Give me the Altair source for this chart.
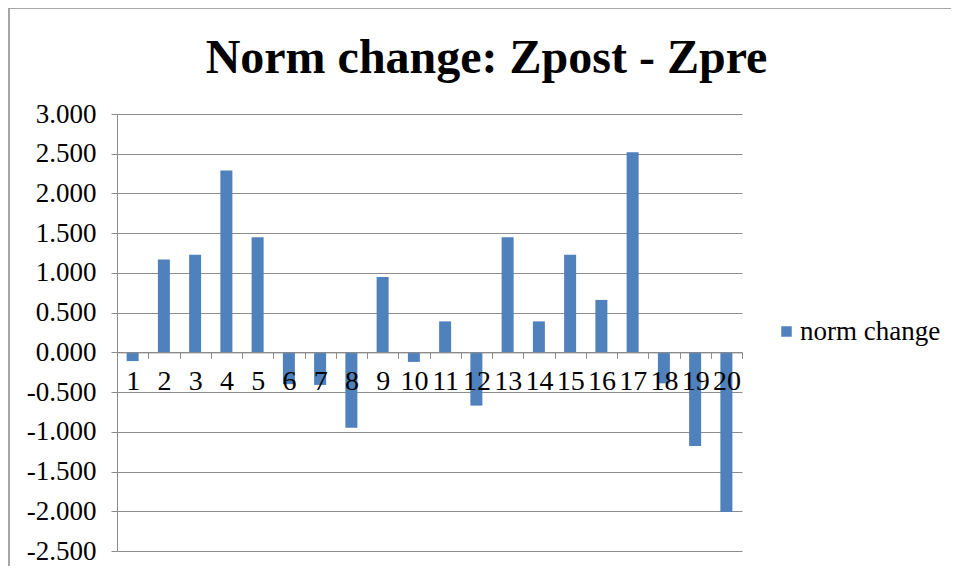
import altair as alt
import pandas as pd

categories = [str(i) for i in range(1, 21)]
values = [-0.11, 1.17, 1.23, 2.29, 1.45, -0.40, -0.41, -0.95, 0.95, -0.12,
          0.39, -0.67, 1.45, 0.39, 1.23, 0.66, 2.52, -0.39, -1.18, -2.01]
series_name = "norm change"
y_ticks = [-2.5, -2.0, -1.5, -1.0, -0.5, 0.0, 0.5, 1.0, 1.5, 2.0, 2.5, 3.0]

df = pd.DataFrame({"cat": categories, "value": values, "series": series_name})

W, H = 625, 437
ymin, ymax = -2.5, 3.0
zero_offset = -H * (0 - ymin) / (ymax - ymin)

FONT = "Liberation Serif"
GRID = "#8c8c8c"

bars = alt.Chart(df).mark_bar(size=12).encode(
    x=alt.X("cat:N", sort=categories, title=None,
            scale=alt.Scale(paddingInner=0, paddingOuter=0),
            axis=alt.Axis(orient="bottom", offset=zero_offset, tickBand="extent",
                          labelAngle=0, labelFont=FONT, labelFontSize=28,
                          labelColor="black", labelPadding=9, tickSize=6,
                          tickColor=GRID, domainColor=GRID, grid=False, zindex=1)),
    y=alt.Y("value:Q", title=None,
            scale=alt.Scale(domain=[ymin, ymax], nice=False, zero=False),
            axis=alt.Axis(values=y_ticks, labelExpr="replace(format(datum.value, '.3f'), '\u2212', '-')",
                          labelFont=FONT, labelFontSize=27, labelColor="black",
                          labelPadding=15, tickSize=6, tickColor=GRID,
                          domainColor=GRID, gridColor=GRID, grid=True)),
    color=alt.Color("series:N", title=None,
                    scale=alt.Scale(range=["#4F81BD"]),
                    legend=alt.Legend(orient="none", legendX=656, legendY=204,
                                      symbolType="square", symbolSize=110,
                                      symbolStrokeWidth=0, labelOffset=0,
                                      labelFont=FONT,
                                      labelFontSize=27, labelColor="black")),
)

frame = alt.Chart(pd.DataFrame({"k": [0]})).mark_rect(
    fill=None, stroke="#a6a6a6", strokeWidth=2
).encode(x=alt.value(-108), x2=alt.value(845), y=alt.value(-106), y2=alt.value(470))

chart = alt.layer(frame, bars).properties(
    width=W, height=H,
    title=alt.Title("Norm change: Zpost - Zpre", font=FONT, fontSize=48,
                    fontWeight="bold", color="black", anchor="middle",
                    dx=57, offset=-114, baseline="alphabetic"),
    autosize=alt.AutoSizeParams(type="none"),
    padding={"left": 109, "top": 106, "right": 209, "bottom": 15},
).configure_view(stroke=None)

chart.save("out.html", embed_options={"renderer": "svg", "actions": False})
